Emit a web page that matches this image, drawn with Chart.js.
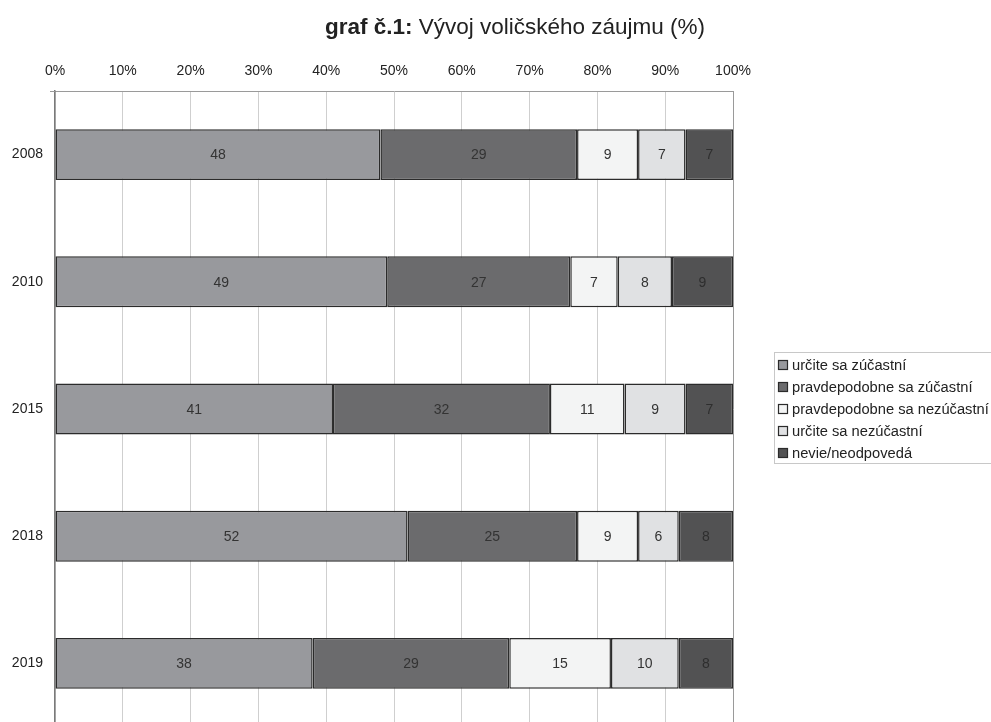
<!DOCTYPE html>
<html>
<head>
<meta charset="utf-8">
<script src="https://cdn.jsdelivr.net/npm/chart.js@4"></script>
<style>
html,body{margin:0;padding:0;background:#fff;overflow:hidden;}
#wrap{position:relative;width:991px;height:760px;}
</style>
</head>
<body>
<div id="wrap"><canvas id="c" width="991" height="760"></canvas></div>
<script>
const years = ["2008", "2010", "2015", "2018", "2019"];
const seriesNames = ["určite sa zúčastní", "pravdepodobne sa zúčastní", "pravdepodobne sa nezúčastní", "určite sa nezúčastní", "nevie/neodpovedá"];
const urciteZucastni = [48, 49, 41, 52, 38];
const pravdepodobneZucastni = [29, 27, 32, 25, 29];
const pravdepodobneNezucastni = [9, 7, 11, 9, 15];
const urciteNezucastni = [7, 8, 9, 6, 10];
const nevie = [7, 9, 7, 8, 8];
const xTicks = [0, 10, 20, 30, 40, 50, 60, 70, 80, 90, 100];

const colors = ["#98999d", "#6b6b6d", "#f3f4f4", "#e0e1e3", "#525253"];
const allValues = [urciteZucastni, pravdepodobneZucastni, pravdepodobneNezucastni, urciteNezucastni, nevie];
const FONT = "'Liberation Sans', Arial, sans-serif";

const datasets = allValues.map((vals, i) => ({
  label: seriesNames[i],
  data: vals,
  backgroundColor: colors[i],
  borderColor: "#2b2b2b",
  borderWidth: 1.5,
  borderSkipped: false,
  categoryPercentage: 0.8,
  barPercentage: 0.5
}));

const labelPlugin = {
  id: "labels",
  afterDatasetsDraw(chart) {
    const ctx = chart.ctx;
    ctx.save();
    ctx.font = "14px " + FONT;
    ctx.textAlign = "center";
    ctx.textBaseline = "middle";
    chart.data.datasets.forEach((ds, di) => {
      const meta = chart.getDatasetMeta(di);
      meta.data.forEach((el, i) => {
        const cx = (el.x + el.base) / 2;
        ctx.fillStyle = di === 4 ? "#2e2e2e" : "#333";
        ctx.fillText(String(ds.data[i]), cx, el.y + 1);
      });
    });
    ctx.restore();
  }
};

const decorPlugin = {
  id: "decor",
  afterDraw(chart) {
    const ctx = chart.ctx;
    ctx.save();
    const bold = "graf č.1:";
    const rest = " Vývoj voličského záujmu (%)";
    ctx.textBaseline = "middle";
    ctx.fillStyle = "#222";
    ctx.font = "bold 22.5px " + FONT;
    const w1 = ctx.measureText(bold).width;
    ctx.font = "22.5px " + FONT;
    const w2 = ctx.measureText(rest).width;
    const sx = 515 - (w1 + w2) / 2;
    ctx.textAlign = "left";
    ctx.font = "bold 22.5px " + FONT;
    ctx.fillText(bold, sx, 28);
    ctx.font = "22.5px " + FONT;
    ctx.fillText(rest, sx + w1, 28);

    const a = chart.chartArea;
    ctx.strokeStyle = "#999";
    ctx.lineWidth = 1;
    ctx.beginPath();
    ctx.moveTo(a.left - 5, a.top + 0.5);
    ctx.lineTo(a.left, a.top + 0.5);
    ctx.stroke();

    const lx = 774.5, ly = 352.5, lw = 230, lh = 111;
    ctx.strokeStyle = "#c8c8c8";
    ctx.lineWidth = 1;
    ctx.strokeRect(lx, ly, lw, lh);
    ctx.font = "14.7px " + FONT;
    ctx.textBaseline = "middle";
    seriesNames.forEach((name, i) => {
      const cy = 365 + i * 22;
      ctx.fillStyle = colors[i];
      ctx.fillRect(778, cy - 5, 10, 10);
      ctx.strokeStyle = "#2b2b2b";
      ctx.lineWidth = 1.2;
      ctx.strokeRect(778.5, cy - 4.5, 9, 9);
      ctx.fillStyle = "#222";
      ctx.fillText(name, 792, cy + 1);
    });
    ctx.restore();
  }
};

new Chart(document.getElementById("c"), {
  type: "bar",
  data: { labels: years, datasets },
  plugins: [labelPlugin, decorPlugin],
  options: {
    indexAxis: "y",
    responsive: false,
    animation: false,
    layout: { padding: { left: 0, right: 258, top: 0, bottom: 33 } },
    plugins: { legend: { display: false }, title: { display: false }, tooltip: { enabled: false } },
    scales: {
      x: {
        position: "top",
        stacked: true,
        min: 0,
        max: 100,
        afterBuildTicks(scale) { scale.ticks = xTicks.map(v => ({ value: v })); },
        afterFit(scale) { scale.height = 91; },
        ticks: {
          callback: v => v + "%",
          color: "#222",
          font: { family: FONT, size: 14 },
          padding: 11,
          maxRotation: 0
        },
        grid: {
          drawTicks: false,
          color: c => (c.index === 10 ? "#9a9a9a" : "#cfcfcf"),
          lineWidth: 1
        },
        border: { display: true, color: "#9a9a9a", width: 1 }
      },
      y: {
        stacked: true,
        afterFit(scale) { scale.width = 55; },
        ticks: {
          color: "#222",
          font: { family: FONT, size: 14 },
          padding: 12
        },
        grid: { display: true, drawOnChartArea: false, drawTicks: false },
        border: { display: true, color: "#7a7a7a", width: 1.5 }
      }
    }
  }
});
</script>
</body>
</html>
